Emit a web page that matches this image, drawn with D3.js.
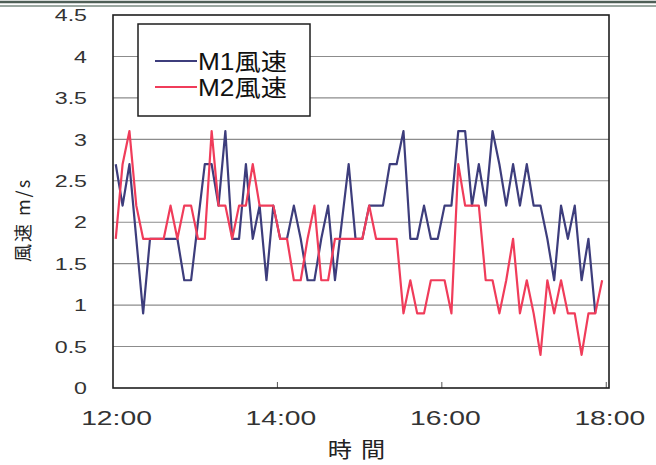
<!DOCTYPE html>
<html><head><meta charset="utf-8">
<script src="https://cdn.jsdelivr.net/npm/d3@7"></script>
<style>body{margin:0;background:#fff}</style>
</head><body><svg id="c" width="656" height="465"></svg>
<script>
const times = [
"12:02","12:07","12:12","12:17","12:22","12:27","12:32","12:37","12:42","12:47","12:52","12:57",
"13:02","13:07","13:12","13:17","13:22","13:27","13:32","13:37","13:42","13:47","13:52","13:57",
"14:02","14:07","14:12","14:17","14:22","14:27","14:32","14:37","14:42","14:47","14:52","14:57",
"15:02","15:07","15:12","15:17","15:22","15:27","15:32","15:37","15:42","15:47","15:52","15:57",
"16:02","16:07","16:12","16:17","16:22","16:27","16:32","16:37","16:42","16:47","16:52","16:57",
"17:02","17:07","17:12","17:17","17:22","17:27","17:32","17:37","17:42","17:47","17:52","17:57"];
const m1 = [2.7,2.2,2.7,1.8,0.9,1.8,1.8,1.8,1.8,1.8,
 1.3,1.3,2.0,2.7,2.7,2.2,3.1,1.8,1.8,2.7,
 1.8,2.2,1.3,2.2,1.8,1.8,2.2,1.8,1.3,1.3,
 1.8,2.2,1.3,2.0,2.7,1.8,1.8,2.2,2.2,2.2,
 2.7,2.7,3.1,1.8,1.8,2.2,1.8,1.8,2.2,2.2,
 3.1,3.1,2.2,2.7,2.2,3.1,2.7,2.2,2.7,2.2,
 2.7,2.2,2.2,1.8,1.3,2.2,1.8,2.2,1.3,1.8,
 0.9];
const m2 = [1.8,2.7,3.1,2.2,1.8,1.8,1.8,1.8,2.2,1.8,
 2.2,2.2,1.8,1.8,3.1,2.2,2.2,1.8,2.2,2.2,
 2.7,2.2,2.2,2.2,1.8,1.8,1.3,1.3,1.8,2.2,
 1.3,1.3,1.8,1.8,1.8,1.8,1.8,2.2,1.8,1.8,
 1.8,1.8,0.9,1.3,0.9,0.9,1.3,1.3,1.3,0.9,
 2.7,2.2,2.2,2.2,1.3,1.3,0.9,1.3,1.8,0.9,
 1.3,0.9,0.4,1.3,0.9,1.3,0.9,0.9,0.4,0.9,
 0.9,1.3];
const seriesNames = ["M1風速","M2風速"];
const yTicks = [0,0.5,1,1.5,2,2.5,3,3.5,4,4.5];
const xTickLabels = ["12:00","14:00","16:00","18:00"];
const xTitle = "時間";
const yTitle = "風速 m/s";

const colors = ["#3d3d7c","#f03c5a"];
const toMin = s => { const [h,m] = s.split(":").map(Number); return (h-12)*60 + m; };

const L = 113, R = 609, T = 15, B = 388;
const svg = d3.select("#c");
const x = d3.scaleLinear().domain([0, 362]).range([L, R]);
const y = d3.scaleLinear().domain([0, 4.5]).range([B, T]);

// scan frame lines at top
svg.append("line").attr("x1",0).attr("x2",656).attr("y1",2).attr("y2",2).attr("stroke","#4f5f57").attr("stroke-width",2.5);
svg.append("line").attr("x1",0).attr("x2",656).attr("y1",6).attr("y2",6).attr("stroke","#7a8a82").attr("stroke-width",1.3);

// gridlines
svg.append("g").selectAll("line").data(yTicks.filter(v => v > 0 && v < 4.5)).join("line")
  .attr("x1", L).attr("x2", R).attr("y1", d => y(d)).attr("y2", d => y(d))
  .attr("stroke", "#8c8c8c").attr("stroke-width", 1.1);

// y axis labels
const ya = svg.append("g").attr("transform", `translate(${L},0)`)
  .call(d3.axisLeft(y).tickValues(yTicks).tickSize(0).tickFormat(d => String(d)));
ya.select(".domain").remove();
ya.selectAll("text").attr("x", null).attr("dy", "0.36em")
  .attr("transform", "translate(-26,0) scale(1.45,1)")
  .attr("font-family", "Liberation Sans, Arial, sans-serif").attr("font-size", 16).attr("fill", "#333");

// x axis labels
const xa = svg.append("g").attr("transform", `translate(0,${B})`)
  .call(d3.axisBottom(x).tickValues(xTickLabels.map(toMin)).tickSize(0).tickFormat((d,i) => xTickLabels[i]));
xa.select(".domain").remove();
xa.selectAll("text").attr("y", null).attr("dy", null)
  .attr("transform", "translate(3,37) scale(1.38,1)")
  .attr("font-family", "Liberation Sans, Arial, sans-serif").attr("font-size", 20.5).attr("fill", "#333");

// inward x ticks
svg.append("g").selectAll("line").data(xTickLabels.map(toMin).slice(1)).join("line")
  .attr("x1", d => x(d)).attr("x2", d => x(d)).attr("y1", B).attr("y2", B - 6)
  .attr("stroke", "#555").attr("stroke-width", 1);

// series lines
const line = d3.line().x((d,i) => x(toMin(times[i]))).y(d => y(d));
[m1, m2].forEach((s, k) => {
  svg.append("path").datum(s).attr("d", line).attr("fill", "none")
    .attr("stroke", colors[k]).attr("stroke-width", 2.2).attr("stroke-linejoin", "round");
});

// plot border
svg.append("rect").attr("x", L).attr("y", T).attr("width", R - L).attr("height", B - T)
  .attr("fill", "none").attr("stroke", "#1e1e1e").attr("stroke-width", 1.6);

// legend
const lg = svg.append("g");
lg.append("rect").attr("x", 138).attr("y", 24).attr("width", 172).attr("height", 92)
  .attr("fill", "#fff").attr("stroke", "#1e1e1e").attr("stroke-width", 1.5);
seriesNames.forEach((n, k) => {
  const cy = 61 + k * 26;
  lg.append("line").attr("x1", 155).attr("x2", 197).attr("y1", cy).attr("y2", cy)
    .attr("stroke", colors[k]).attr("stroke-width", 2.2);
  lg.append("text").attr("x", 198).attr("y", cy + 9).text(n)
    .attr("font-family", "Liberation Sans, Noto Sans CJK JP, sans-serif").attr("font-size", 23)
    .attr("textLength", 89).attr("lengthAdjust", "spacingAndGlyphs").attr("fill", "#111");
});

// axis titles
svg.append("text").text(xTitle)
  .attr("transform", `translate(${(L + R) / 2},457) scale(1.15,1)`).attr("text-anchor", "middle")
  .attr("font-family", "Noto Sans CJK JP, sans-serif").attr("font-size", 21).attr("letter-spacing", 8)
  .attr("fill", "#222");
svg.append("text").text(yTitle)
  .attr("transform", "translate(30,220) rotate(-90)").attr("text-anchor", "middle")
  .attr("font-family", "Noto Sans CJK JP, sans-serif").attr("font-size", 18).attr("letter-spacing", 2)
  .attr("fill", "#222");
</script>
</body></html>
